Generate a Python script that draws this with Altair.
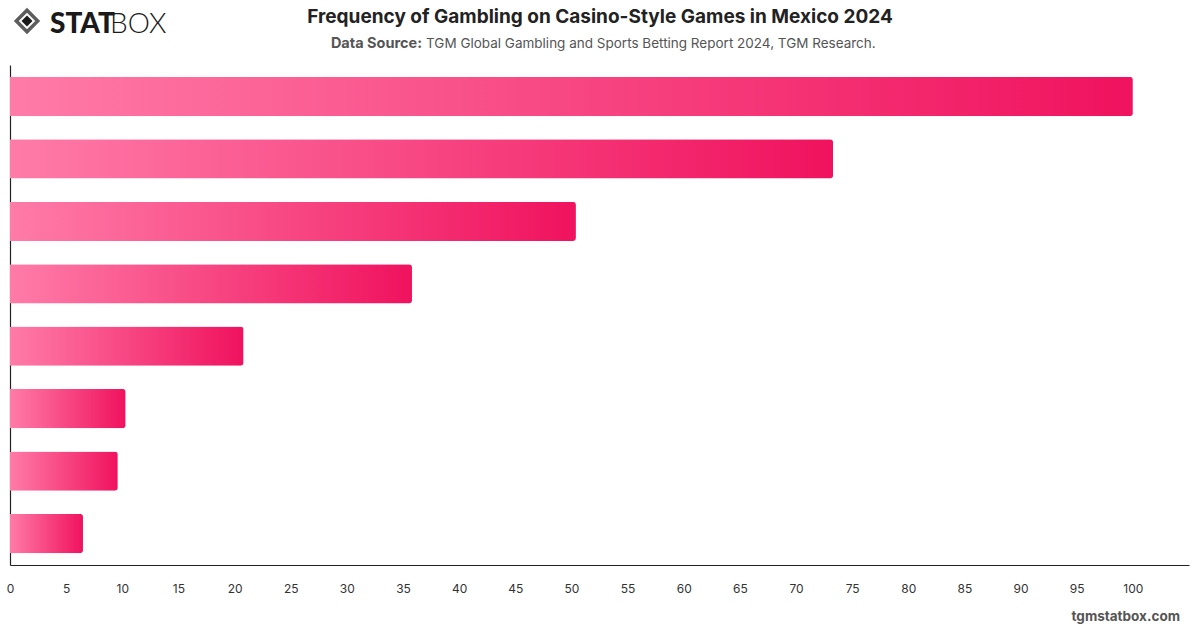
import altair as alt
import pandas as pd

categories = ["Cat 1", "Cat 2", "Cat 3", "Cat 4", "Cat 5", "Cat 6", "Cat 7", "Cat 8"]
values = [100, 73.3, 50.4, 35.8, 20.8, 10.3, 9.6, 6.5]
x_ticks = list(range(0, 101, 5))

df = pd.DataFrame({"category": categories, "value": values})

FONT = "Inter"

grad = alt.Gradient(
    gradient="linear",
    stops=[alt.GradientStop(color="#ff7ba8", offset=0),
           alt.GradientStop(color="#f0125e", offset=1)],
    x1=0, x2=1, y1=0, y2=0,
)

bars = alt.Chart(df).mark_bar(color=grad, cornerRadiusEnd=3).encode(
    x=alt.X("value:Q",
            scale=alt.Scale(domain=[0, 105], nice=False),
            axis=alt.Axis(values=x_ticks, title=None, grid=False, ticks=False,
                          domainColor="#222", domainWidth=1.2, labelPadding=18,
                          labelFontSize=12, labelColor="#333", labelFont=FONT,
                          labelFlush=False)),
    y=alt.Y("category:N", sort=categories,
            scale=alt.Scale(paddingInner=0.37, paddingOuter=0.19),
            axis=alt.Axis(title=None, labels=False, ticks=False, grid=False,
                          domainColor="#222", domainWidth=1.2)),
)

def txt(text, x, y, size, weight="normal", color="#222", align="left", font=FONT):
    return alt.Chart(pd.DataFrame({"t": [text]})).mark_text(
        align=align, baseline="alphabetic", fontSize=size, fontWeight=weight,
        color=color, font=font, clip=False
    ).encode(x=alt.value(x), y=alt.value(y), text="t:N")

title = txt("Frequency of Gambling on Casino-Style Games in Mexico 2024", 590, -42, 19, "bold", "#222", "center")
sub1 = txt("Data Source:", 412, -17, 14.5, "bold", "#555", "right")
sub2 = txt("TGM Global Gambling and Sports Betting Report 2024, TGM Research.", 416, -17, 13.5, "normal", "#555", "left")
footer = txt("tgmstatbox.com", 1170, 56 + 500, 13.5, "bold", "#555", "right")

logo_stat = txt("STAT", 40, -32, 28, 900, "#1a1a1a", "left", "Lato")
logo_box = txt("BOX", 100, -32, 28, 300, "#1a1a1a", "left", "Lato")

icon_outer = alt.Chart(pd.DataFrame({"a": [1]})).mark_point(
    shape="diamond", filled=False, stroke="#1a1a1a", strokeWidth=3.5, size=460, clip=False
).encode(x=alt.value(17), y=alt.value(-44))
icon_inner = alt.Chart(pd.DataFrame({"a": [1]})).mark_point(
    shape="diamond", filled=True, color="#1a1a1a", size=120, opacity=1, clip=False
).encode(x=alt.value(17), y=alt.value(-44))

chart = alt.layer(bars, title, sub1, sub2, footer, logo_stat, logo_box, icon_outer, icon_inner).properties(
    width=1179, height=500,
    padding={"left": 10, "top": 65, "right": 11, "bottom": 63},
    autosize=alt.AutoSizeParams(type="none"),
    background="white",
).configure_view(stroke=None)

chart.save("out.html", embed_options={"renderer": "svg", "actions": False})
